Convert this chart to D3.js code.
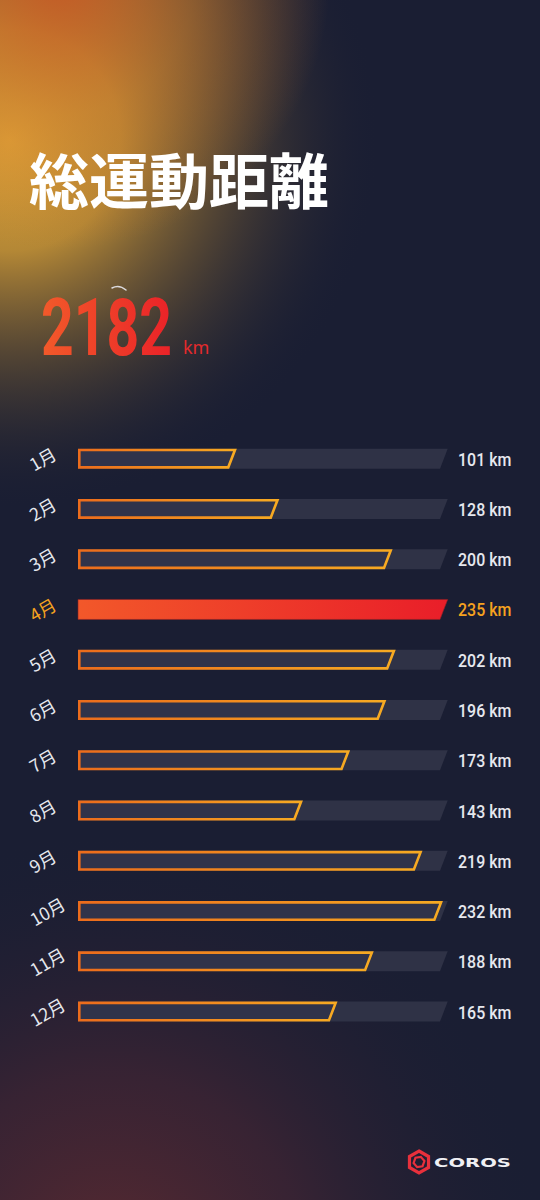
<!DOCTYPE html>
<html><head><meta charset="utf-8">
<script src="https://cdn.jsdelivr.net/npm/d3@7"></script>
<style>html,body{margin:0;padding:0;background:#1a1e33;}svg{display:block}</style>
</head><body>
<script>
const months = ["1月","2月","3月","4月","5月","6月","7月","8月","9月","10月","11月","12月"];
const distances = [101,128,200,235,202,196,173,143,219,232,188,165];
const unit = "km";
const totalLabel = "2182";
const titleText = "総運動距離";

const W = 540, H = 1200;
const svg = d3.select("body").append("svg").attr("width", W).attr("height", H);
const defs = svg.append("defs");

svg.append("rect").attr("width", W).attr("height", H).attr("fill", "#1a1e33");

function radial(id, cx, cy, r, stops) {
  const g = defs.append("radialGradient").attr("id", id).attr("gradientUnits", "userSpaceOnUse")
    .attr("cx", cx).attr("cy", cy).attr("r", r);
  stops.forEach(s => g.append("stop").attr("offset", s[0]).attr("stop-color", s[1]).attr("stop-opacity", s[2]));
}
radial("glowY", 10, 140, 370, [[0, "#e0a83a", 1], [0.3, "#cf9a36", 0.85], [0.62, "#8a6a35", 0.42], [1, "#1a1e33", 0]]);
radial("glowO", 60, -20, 270, [[0, "#c85a25", 0.95], [0.5, "#cf7a2c", 0.5], [1, "#cf7a2c", 0]]);
radial("glowB", 110, 1270, 440, [[0, "#5a2a30", 1], [0.45, "#4a2633", 0.6], [1, "#1a1e33", 0]]);
svg.append("rect").attr("width", W).attr("height", 540).attr("fill", "url(#glowY)");
svg.append("rect").attr("width", W).attr("height", 400).attr("fill", "url(#glowO)");
svg.append("rect").attr("y", 800).attr("width", W).attr("height", 400).attr("fill", "url(#glowB)");

// title
svg.append("text").attr("x", 29).attr("y", 204)
  .attr("font-family", "'Noto Sans CJK JP'").attr("font-weight", 700).attr("font-size", 60)
  .attr("fill", "#ffffff").text(titleText);

// total
const tg = defs.append("linearGradient").attr("id", "totalGrad").attr("gradientUnits", "objectBoundingBox")
  .attr("x1", 0).attr("x2", 1).attr("y1", 0).attr("y2", 0);
tg.append("stop").attr("offset", 0).attr("stop-color", "#f25a2a");
tg.append("stop").attr("offset", 1).attr("stop-color", "#ea2228");
const tot = svg.append("text").attr("x", 0).attr("y", 0)
  .attr("font-family", "Roboto").attr("font-weight", 700).attr("font-size", 80)
  .attr("fill", "url(#totalGrad)").text(totalLabel);
const tw = tot.node().getComputedTextLength();
tot.attr("transform", `translate(41,355) scale(${131 / tw},1)`);
svg.append("text").attr("x", 183).attr("y", 354)
  .attr("font-family", "'Noto Sans'").attr("font-size", 18)
  .attr("fill", "#e42a2c").text(unit);
svg.append("path").attr("d", "M112,288 Q119,284 126,290")
  .attr("fill", "none").attr("stroke", "#e8e8ee").attr("stroke-width", 1.5).attr("stroke-linecap", "round").attr("opacity", 0.9);

// bars
const x0 = 78, xMax = 447.7, slant = 7.7;
const x = d3.scaleLinear().domain([0, d3.max(distances)]).range([x0, xMax]);
const y = d3.scaleBand().domain(months).range([448.6 - 15.1, 448.6 - 15.1 + 50.27 * 12]).paddingInner(0.6022).paddingOuter(0.3011);
const maxV = d3.max(distances);

const og = defs.append("linearGradient").attr("id", "outlineGrad").attr("gradientUnits", "objectBoundingBox")
  .attr("x1", 0).attr("x2", 1).attr("y1", 0).attr("y2", 0);
og.append("stop").attr("offset", 0).attr("stop-color", "#ec6c1c");
og.append("stop").attr("offset", 1).attr("stop-color", "#f7aa22");
const fg = defs.append("linearGradient").attr("id", "fullGrad").attr("gradientUnits", "objectBoundingBox")
  .attr("x1", 0).attr("x2", 1).attr("y1", 0).attr("y2", 0);
fg.append("stop").attr("offset", 0).attr("stop-color", "#f2582a");
fg.append("stop").attr("offset", 1).attr("stop-color", "#e91e29");

function para(xl, xr, yt, h, inset) {
  const i = inset || 0;
  const t = yt + i, b = yt + h - i;
  const k = slant / h;
  const rt = xr - i * 1.1 - k * i, rb = xr - i * 1.1 - k * (h - i);
  return `M${xl + i},${t}L${rt},${t}L${rb},${b}L${xl + i},${b}Z`;
}

const sx = 0.84;
const rows = svg.append("g").selectAll("g").data(months).join("g");
rows.each(function (m, i) {
  const g = d3.select(this);
  const yt = y(m), v = distances[i], isMax = v === maxV;
  g.append("path").attr("d", para(x0, x(maxV), yt, y.bandwidth(), 0)).attr("fill", "#2f3246");
  if (isMax) {
    g.append("path").attr("d", para(x0, x(v), yt, y.bandwidth(), 0))
      .attr("fill", "url(#fullGrad)").attr("stroke", "#8a1f22").attr("stroke-width", 0.6);
  } else {
    g.append("path").attr("d", para(x0, x(v), yt, y.bandwidth(), 1.3))
      .attr("fill", "#30334a").attr("stroke", "url(#outlineGrad)").attr("stroke-width", 2.6)
      .attr("stroke-linejoin", "miter");
  }
  const cy = yt + y.bandwidth() / 2;
  const lab = g.append("text").attr("x", 30).attr("y", cy + 7)
    .attr("font-family", "'Noto Sans CJK JP'").attr("font-size", 17.5)
    .attr("fill", isMax ? "#f5a21f" : "#e6e8ee").text(m);
  const w = lab.node().getComputedTextLength();
  lab.attr("transform", `rotate(-30, ${30 + w / 2}, ${cy + 2})`);
  g.append("text").attr("transform", `translate(458,${cy + 7}) scale(${sx},1)`)
    .attr("font-family", "Roboto").attr("font-weight", 500).attr("font-size", 19)
    .attr("fill", isMax ? "#f5a21f" : "#e6e8ee").text(`${v} ${unit}`);
});

// logo
const logo = svg.append("g").attr("transform", "translate(419,1162)");
const hex = d3.range(6).map(k => { const a = Math.PI / 3 * k - Math.PI / 2; return [11 * Math.cos(a), 11 * Math.sin(a)]; });
logo.append("path").attr("d", "M" + hex.map(p => p.join(",")).join("L") + "Z")
  .attr("fill", "none").attr("stroke", "#e8303c").attr("stroke-width", 3.2);
const hex2 = d3.range(6).map(k => { const a = Math.PI / 3 * k - Math.PI / 2 + 0.35; return [5.5 * Math.cos(a), 5.5 * Math.sin(a)]; });
logo.append("path").attr("d", "M" + hex2.map(p => p.join(",")).join("L") + "Z")
  .attr("fill", "none").attr("stroke", "#e8303c").attr("stroke-width", 2.2);
svg.append("text").attr("x", 434).attr("y", 1167)
  .attr("font-family", "'DejaVu Sans'").attr("font-weight", 700).attr("font-size", 13)
  .attr("textLength", 77).attr("lengthAdjust", "spacingAndGlyphs")
  .attr("fill", "#f0f0f4").text("COROS");
</script>
</body></html>
